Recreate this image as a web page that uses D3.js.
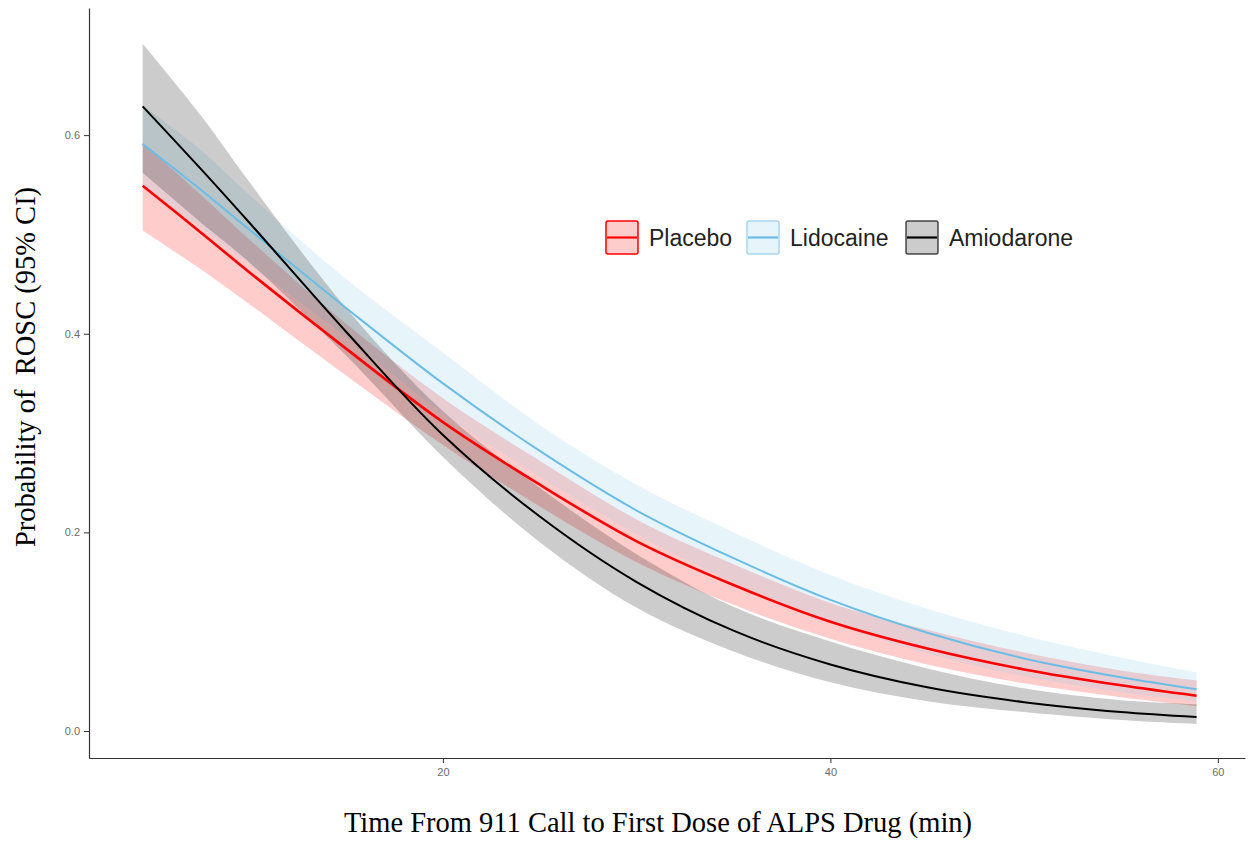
<!DOCTYPE html>
<html>
<head>
<meta charset="utf-8">
<script src="https://cdn.jsdelivr.net/npm/d3@7"></script>
<style>
  body { margin: 0; background: #fff; }
  .axis text { font-family: "Liberation Sans", Arial, sans-serif; font-size: 11px; fill: #6b6b6b; }
  .axis path, .axis line { stroke: #333; }
</style>
</head>
<body>
<script>
var width = 1249;
var height = 842;

// minutes from 911 call
var times = [4.5, 7.5, 10, 15, 20, 25, 30, 35, 40, 45, 50, 55, 58.9];

var placebo    = [0.549, 0.502, 0.462, 0.385, 0.311, 0.248, 0.191, 0.147, 0.110, 0.083, 0.062, 0.046, 0.0355];
var placeboLo  = [0.504, 0.465, 0.430, 0.358, 0.288, 0.226, 0.170, 0.127, 0.093, 0.067, 0.048, 0.034, 0.025];
var placeboHi  = [0.592, 0.540, 0.495, 0.410, 0.335, 0.272, 0.213, 0.168, 0.129, 0.102, 0.079, 0.061, 0.051];

var lidocaine   = [0.591, 0.545, 0.505, 0.426, 0.350, 0.282, 0.222, 0.174, 0.132, 0.099, 0.073, 0.054, 0.042];
var lidocaineLo = [0.550, 0.507, 0.470, 0.397, 0.320, 0.256, 0.198, 0.150, 0.110, 0.078, 0.055, 0.039, 0.030];
var lidocaineHi = [0.630, 0.585, 0.540, 0.455, 0.381, 0.308, 0.248, 0.200, 0.157, 0.123, 0.096, 0.074, 0.059];

var amiodarone   = [0.629, 0.566, 0.512, 0.402, 0.298, 0.216, 0.150, 0.101, 0.067, 0.044, 0.029, 0.019, 0.014];
var amiodaroneLo = [0.562, 0.512, 0.472, 0.378, 0.276, 0.190, 0.124, 0.080, 0.049, 0.030, 0.019, 0.011, 0.007];
var amiodaroneHi = [0.692, 0.620, 0.553, 0.426, 0.322, 0.245, 0.178, 0.125, 0.090, 0.063, 0.043, 0.031, 0.027];

var groups = ["Placebo", "Lidocaine", "Amiodarone"];
var lineColors = ["#ff0000", "#6cbde6", "#000000"];
var fillColors = ["#ff0000", "#87ceeb", "#000000"];
var xTicks = [20, 40, 60];
var yTicks = [0.0, 0.2, 0.4, 0.6];

var series = [
    {name: groups[0], fit: placebo, lo: placeboLo, hi: placeboHi},
    {name: groups[1], fit: lidocaine, lo: lidocaineLo, hi: lidocaineHi},
    {name: groups[2], fit: amiodarone, lo: amiodaroneLo, hi: amiodaroneHi}
];

var svg = d3.select("body")
        .append("svg")
        .attr("width", width)
        .attr("height", height);

var x = d3.scaleLinear().domain([1.73, 61.4]).range([89, 1245]),
    y = d3.scaleLinear().domain([-0.0272, 0.728]).range([758, 8]);

var band = d3.area()
        .x(function (d) { return x(d.t); })
        .y0(function (d) { return y(d.lo); })
        .y1(function (d) { return y(d.hi); })
        .curve(d3.curveCatmullRom.alpha(0.5));

var line = d3.line()
        .x(function (d) { return x(d.t); })
        .y(function (d) { return y(d.v); })
        .curve(d3.curveCatmullRom.alpha(0.5));

function rows(s) {
    return times.map(function (t, i) {
        return {t: t, v: s.fit[i], lo: s.lo[i], hi: s.hi[i]};
    });
}

// ribbons first, then lines (ggplot layer order)
svg.append("g").selectAll("path")
        .data(series)
        .enter().append("path")
        .attr("d", function (d) { return band(rows(d)); })
        .attr("fill", function (d, i) { return fillColors[i]; })
        .attr("fill-opacity", 0.2);

svg.append("g").selectAll("path")
        .data(series)
        .enter().append("path")
        .attr("d", function (d) { return line(rows(d)); })
        .attr("fill", "none")
        .attr("stroke", function (d, i) { return lineColors[i]; })
        .attr("stroke-width", function (d, i) { return i === 0 ? 2.6 : 2; });

svg.append("g")
        .classed("axis", true)
        .attr("transform", "translate(0,758)")
        .call(d3.axisBottom(x).tickValues(xTicks).tickSize(5).tickPadding(5).tickSizeOuter(0))
        .call(function (g) { g.select(".domain").attr("stroke-width", 1.2); });

svg.append("g")
        .classed("axis", true)
        .attr("transform", "translate(89,0)")
        .call(d3.axisLeft(y).tickValues(yTicks).tickFormat(d3.format(".1f")).tickSize(5).tickPadding(4).tickSizeOuter(0))
        .call(function (g) { g.select(".domain").attr("stroke-width", 1.2); });

svg.append("text")
        .attr("transform", "translate(35,367) rotate(-90)")
        .attr("text-anchor", "middle")
        .style("white-space", "pre")
        .style("font-family", "'Liberation Serif', 'Times New Roman', serif")
        .style("font-size", "28.5px")
        .text("Probability of  ROSC (95% CI)");

svg.append("text")
        .attr("x", 658)
        .attr("y", 832)
        .attr("text-anchor", "middle")
        .style("font-family", "'Liberation Serif', 'Times New Roman', serif")
        .style("font-size", "28.5px")
        .text("Time From 911 Call to First Dose of ALPS Drug (min)");

// legend
var legendX = [606, 747, 906];
var legend = svg.append("g").selectAll("g")
        .data(groups)
        .enter().append("g")
        .attr("transform", function (d, i) { return "translate(" + legendX[i] + ",221)"; });

legend.append("rect")
        .attr("width", 32)
        .attr("height", 33)
        .attr("rx", 2)
        .attr("fill", function (d, i) { return fillColors[i]; })
        .attr("fill-opacity", 0.2)
        .attr("stroke", function (d, i) { return i === 1 ? "#a8d8ef" : lineColors[i]; })
        .attr("stroke-opacity", function (d, i) { return i === 2 ? 0.7 : 1; })
        .attr("stroke-width", 1.5);

legend.append("line")
        .attr("x1", 1).attr("x2", 31)
        .attr("y1", 16.5).attr("y2", 16.5)
        .attr("stroke", function (d, i) { return lineColors[i]; })
        .attr("stroke-width", 2.2);

legend.append("text")
        .attr("x", 43)
        .attr("y", 25)
        .style("font-family", "'Liberation Sans', Arial, sans-serif")
        .style("font-size", "23px")
        .attr("fill", "#222")
        .text(function (d) { return d; });
</script>
</body>
</html>
